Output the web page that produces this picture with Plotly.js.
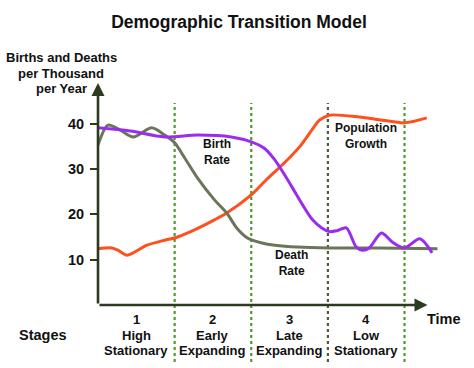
<!DOCTYPE html>
<html>
<head>
<meta charset="utf-8">
<script src="https://cdn.plot.ly/plotly-3.0.1.min.js"></script>
<style>html,body{margin:0;padding:0;background:#fff;}#chart{width:474px;height:368px;}</style>
</head>
<body>
<div id="chart"></div>
<script>
// Time measured in "stage units" (each stage = 1 unit)
const birthX = [0, 0.42, 0.87, 1.30, 1.74, 2.00, 2.17, 2.30, 2.41, 2.54, 2.67, 2.80, 2.92, 3.02, 3.12, 3.24, 3.37, 3.45, 3.54, 3.70, 3.84, 4.00, 4.20, 4.36];
const birthY = [39.1, 38.4, 37.1, 37.5, 37.1, 36.0, 34.6, 32.2, 29.4, 25.8, 22.1, 18.8, 17.0, 16.2, 16.4, 17.0, 12.8, 12.1, 12.6, 15.9, 13.9, 12.6, 14.6, 11.5];

const deathX = [0, 0.13, 0.29, 0.46, 0.70, 0.87, 1.00, 1.13, 1.30, 1.52, 1.68, 1.81, 1.95, 2.14, 2.31, 2.60, 3.02, 3.67, 4.43];
const deathY = [35.3, 39.7, 38.6, 37.1, 39.1, 37.5, 35.8, 32.5, 28.0, 23.2, 20.3, 17.0, 14.8, 13.7, 13.2, 12.8, 12.6, 12.6, 12.4];

const popX = [0, 0.18, 0.26, 0.38, 0.64, 0.87, 1.00, 1.26, 1.52, 1.68, 2.00, 2.20, 2.41, 2.63, 2.79, 2.89, 3.02, 3.41, 3.71, 4.00, 4.29];
const popY = [12.4, 12.6, 12.1, 11.0, 13.2, 14.3, 14.8, 16.6, 18.8, 20.3, 24.3, 27.7, 31.0, 34.9, 38.6, 40.8, 41.9, 41.5, 40.8, 40.2, 41.3];

const tickVals = [10, 20, 30, 40];
const stageBounds = [1, 2, 3, 4];
const stageNums = ["1", "2", "3", "4"];
const stageLine1 = ["High", "Early", "Late", "Low"];
const stageLine2 = ["Stationary", "Expanding", "Expanding", "Stationary"];
const curveLabels = [
  {text: "Birth<br>Rate", x: 1.55, y: 33.7},
  {text: "Population<br>Growth", x: 3.50, y: 37.2},
  {text: "Death<br>Rate", x: 2.53, y: 9.3}
];

const FONT = "Liberation Sans, Arial, sans-serif";
const AXC = "#2c3b1f";

const traces = [
  {x: popX, y: popY, mode: "lines", line: {color: "#ff4f1f", width: 3, shape: "spline", smoothing: 0.8}, hoverinfo: "skip"},
  {x: deathX, y: deathY, mode: "lines", line: {color: "#6b7658", width: 3, shape: "spline", smoothing: 0.8}, hoverinfo: "skip"},
  {x: birthX, y: birthY, mode: "lines", line: {color: "#9a2cf0", width: 3, shape: "spline", smoothing: 0.8}, hoverinfo: "skip"}
];

const shapes = stageBounds.map((b, i) => ({
  type: "line", xref: "x", yref: "paper", x0: b, x1: b, y0: -0.257, y1: 0.91,
  line: {color: i === 2 ? "#4d5c40" : "#4f9a2c", width: 2.2, dash: "dot"}, layer: "below"
}));

const annotations = [];
// axes arrows
annotations.push({xref: "x", yref: "y", axref: "x", ayref: "y", x: 4.30, y: 0, ax: 0, ay: 0,
  showarrow: true, arrowhead: 2, arrowsize: 1, arrowwidth: 2.6, arrowcolor: AXC, text: ""});
annotations.push({xref: "x", yref: "y", axref: "x", ayref: "y", x: 0, y: 49, ax: 0, ay: 0,
  showarrow: true, arrowhead: 2, arrowsize: 1, arrowwidth: 2.6, arrowcolor: AXC, text: ""});

const mk = (o) => Object.assign({showarrow: false, xanchor: "center", yanchor: "middle", align: "center"}, o);

curveLabels.forEach(c => annotations.push(mk({xref: "x", yref: "y", x: c.x, y: c.y, text: c.text,
  font: {family: FONT, size: 12, color: "#111", weight: "bold"}})));

// stage labels
const bfont = {family: FONT, size: 13, color: "#111", weight: "bold"};
stageNums.forEach((n, i) => {
  const cx = i + 0.5;
  annotations.push(mk({xref: "x", yref: "paper", x: cx, y: (305 - 319) / 222, text: n, font: bfont}));
  annotations.push(mk({xref: "x", yref: "paper", x: cx, y: (305 - 335) / 222, text: stageLine1[i], font: bfont}));
  annotations.push(mk({xref: "x", yref: "paper", x: cx, y: (305 - 350.5) / 222, text: stageLine2[i], font: bfont}));
});
annotations.push(mk({xref: "paper", yref: "paper", x: (43 - 98) / 341.5, y: (305 - 335) / 222, text: "Stages",
  font: {family: FONT, size: 14.5, color: "#111", weight: "bold"}}));
annotations.push(mk({xref: "paper", yref: "paper", x: (445 - 98) / 341.5, y: (305 - 319) / 222, text: "Time",
  font: {family: FONT, size: 14.5, color: "#111", weight: "bold"}}));
// y title
const ytitle = ["Births and Deaths", "per Thousand", "per Year"];
const ytY = [57, 73, 88];
ytitle.forEach((t, i) => annotations.push(mk({xref: "paper", yref: "paper", x: (61 - 98) / 341.5, y: (305 - ytY[i]) / 222,
  text: t, font: {family: FONT, size: 13, color: "#111", weight: "bold"}})));

const layout = {
  width: 474, height: 368,
  margin: {l: 98, r: 474 - 98 - 341.5, t: 83, b: 63},
  paper_bgcolor: "#fff", plot_bgcolor: "#fff",
  showlegend: false,
  title: {text: "Demographic Transition Model", x: 239 / 474, xref: "container", xanchor: "center",
    y: 1 - 22 / 368, yref: "container", yanchor: "middle",
    font: {family: FONT, size: 17.5, color: "#111", weight: "bold"}},
  xaxis: {range: [0, 4.45], showgrid: false, zeroline: false, showline: false, showticklabels: false, ticks: "", fixedrange: true},
  yaxis: {range: [0, 49], showgrid: false, zeroline: false, showline: false, tickvals: tickVals, ticks: "outside",
    ticklen: 7, tickwidth: 2, tickcolor: AXC, ticklabelstandoff: 3,
    tickfont: {family: FONT, size: 14.5, color: "#111", weight: "bold"}, fixedrange: true},
  shapes: shapes,
  annotations: annotations
};

Plotly.newPlot("chart", traces, layout, {staticPlot: true, displayModeBar: false});
</script>
</body>
</html>
